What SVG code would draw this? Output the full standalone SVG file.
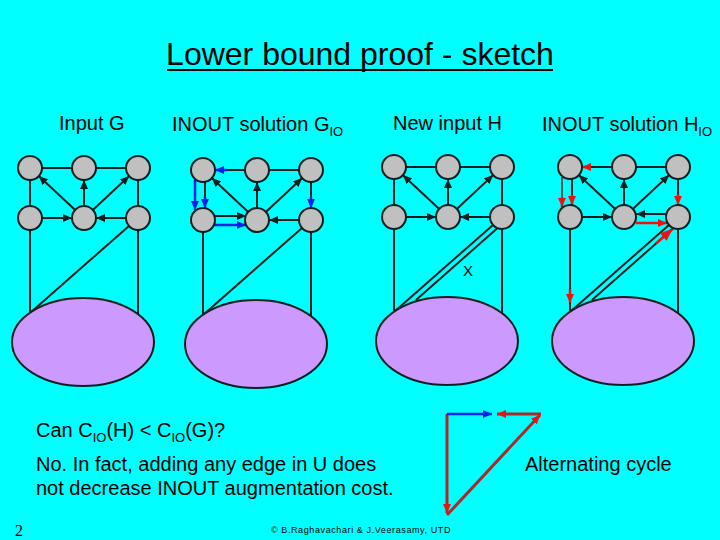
<svg xmlns="http://www.w3.org/2000/svg" width="720" height="540" viewBox="0 0 720 540">
<style>
.e{stroke:#102020;stroke-width:2;fill:none}
.n{fill:#c0c0c0;stroke:#102020;stroke-width:2}
.el{fill:#cc99ff;stroke:#102020;stroke-width:2}
.t{font-family:"Liberation Sans",Arial,sans-serif;fill:#000}
.b{stroke:#0022ee;stroke-width:2.5;fill:none}
.r{stroke:#ee1111;stroke-width:2.5;fill:none}
.g{stroke:#555;stroke-width:2;fill:none}
.br{stroke:#aa2a2a;stroke-width:3;fill:none}
</style>
<defs>
<marker id="ak" markerUnits="userSpaceOnUse" markerWidth="10" markerHeight="8" refX="9" refY="4" orient="auto"><path d="M0,0 L9,4 L0,8 z" fill="#102020"/></marker>
<marker id="ab" markerUnits="userSpaceOnUse" markerWidth="10" markerHeight="8" refX="9" refY="4" orient="auto"><path d="M0,0 L9,4 L0,8 z" fill="#0022ee"/></marker>
<marker id="ar" markerUnits="userSpaceOnUse" markerWidth="10" markerHeight="8" refX="9" refY="4" orient="auto"><path d="M0,0 L9,4 L0,8 z" fill="#ee1111"/></marker>
<marker id="ar2" markerUnits="userSpaceOnUse" markerWidth="14" markerHeight="10" refX="13" refY="5" orient="auto"><path d="M0,0 L13,5 L0,10 z" fill="#ee1111"/></marker>
</defs>
<rect width="720" height="540" fill="#00ffff"/>

<g id="title">
<text class="t" x="360" y="65" font-size="32" text-anchor="middle">Lower bound proof - sketch</text>
<line x1="167" y1="70" x2="553" y2="70" stroke="#000" stroke-width="2"/>
</g>
<g id="labels" font-size="20">
<text class="t" x="59" y="130">Input G</text>
<text class="t" x="172" y="131">INOUT solution G<tspan font-size="13" dy="5">IO</tspan></text>
<text class="t" x="393" y="130">New input H</text>
<text class="t" x="542" y="131">INOUT solution H<tspan font-size="13" dy="5">IO</tspan></text>
</g>

<!-- Graph 1 -->
<g id="graph1">
<g id="g1-connectors">
<line class="e" x1="42" y1="168" x2="72" y2="168"/>
<line class="e" x1="96" y1="168" x2="126" y2="168"/>
<line class="e" x1="30" y1="180" x2="30" y2="206"/>
<line class="e" x1="138" y1="180" x2="138" y2="206"/>
<line class="e" x1="75.2" y1="209.9" x2="38.8" y2="176.1" marker-end="url(#ak)"/>
<line class="e" x1="84" y1="206" x2="84" y2="180" marker-end="url(#ak)"/>
<line class="e" x1="92.8" y1="209.9" x2="129.2" y2="176.1" marker-end="url(#ak)"/>
<line class="e" x1="42" y1="218" x2="72" y2="218" marker-end="url(#ak)"/>
<line class="e" x1="126" y1="218" x2="96" y2="218" marker-end="url(#ak)"/>
<line class="e" x1="30" y1="230" x2="30" y2="313"/>
<line class="e" x1="138" y1="230" x2="138" y2="314"/>
<line class="e" x1="129" y1="225.9" x2="30" y2="313"/>
</g>
<g id="g1-u"><ellipse class="el" cx="83" cy="342" rx="71" ry="44"/></g>
<g id="g1-tl"><circle class="n" cx="30" cy="168" r="12"/></g>
<g id="g1-tm"><circle class="n" cx="84" cy="168" r="12"/></g>
<g id="g1-tr"><circle class="n" cx="138" cy="168" r="12"/></g>
<g id="g1-bl"><circle class="n" cx="30" cy="218" r="12"/></g>
<g id="g1-bm"><circle class="n" cx="84" cy="218" r="12"/></g>
<g id="g1-br"><circle class="n" cx="138" cy="218" r="12"/></g>
</g>

<!-- Graph 2 -->
<g id="graph2" transform="translate(173,2)">
<g id="g2-connectors">
<line class="e" x1="72" y1="168" x2="42" y2="168"/>
<line class="b" x1="54" y1="168" x2="42" y2="168" marker-end="url(#ab)"/>
<line class="e" x1="96" y1="168" x2="126" y2="168"/>
<line class="e" x1="32" y1="180" x2="32" y2="206"/>
<line class="b" x1="32" y1="195" x2="32" y2="206" marker-end="url(#ab)"/>
<line class="b" x1="22" y1="178" x2="22" y2="208" marker-end="url(#ab)"/>
<line class="e" x1="138" y1="180" x2="138" y2="206"/>
<line class="b" x1="138" y1="195" x2="138" y2="206" marker-end="url(#ab)"/>
<line class="e" x1="75.2" y1="209.9" x2="38.8" y2="176.1" marker-end="url(#ak)"/>
<line class="e" x1="84" y1="206" x2="84" y2="180" marker-end="url(#ak)"/>
<line class="e" x1="92.8" y1="209.9" x2="129.2" y2="176.1" marker-end="url(#ak)"/>
<line class="e" x1="42" y1="214" x2="73" y2="214" marker-end="url(#ak)"/>
<line class="b" x1="41" y1="223" x2="73" y2="223" marker-end="url(#ab)"/>
<line class="e" x1="126" y1="218" x2="96" y2="218" marker-end="url(#ak)"/>
<line class="e" x1="30" y1="230" x2="30" y2="313"/>
<line class="e" x1="138" y1="230" x2="138" y2="314"/>
<line class="e" x1="129" y1="225.9" x2="30" y2="313"/>
</g>
<g id="g2-u"><ellipse class="el" cx="83" cy="342" rx="71" ry="44"/></g>
<g id="g2-tl"><circle class="n" cx="30" cy="168" r="12"/></g>
<g id="g2-tm"><circle class="n" cx="84" cy="168" r="12"/></g>
<g id="g2-tr"><circle class="n" cx="138" cy="168" r="12"/></g>
<g id="g2-bl"><circle class="n" cx="30" cy="218" r="12"/></g>
<g id="g2-bm"><circle class="n" cx="84" cy="218" r="12"/></g>
<g id="g2-br"><circle class="n" cx="138" cy="218" r="12"/></g>
</g>

<!-- Graph 3 -->
<g id="graph3" transform="translate(364,-1)">
<g id="g3-connectors">
<line class="e" x1="42" y1="168" x2="72" y2="168"/>
<line class="e" x1="96" y1="168" x2="126" y2="168"/>
<line class="e" x1="30" y1="180" x2="30" y2="206"/>
<line class="e" x1="138" y1="180" x2="138" y2="206"/>
<line class="e" x1="75.2" y1="209.9" x2="38.8" y2="176.1" marker-end="url(#ak)"/>
<line class="e" x1="84" y1="206" x2="84" y2="180" marker-end="url(#ak)"/>
<line class="e" x1="92.8" y1="209.9" x2="129.2" y2="176.1" marker-end="url(#ak)"/>
<line class="e" x1="42" y1="218" x2="72" y2="218" marker-end="url(#ak)"/>
<line class="e" x1="126" y1="218" x2="96" y2="218" marker-end="url(#ak)"/>
<line class="e" x1="30" y1="230" x2="30" y2="313"/>
<line class="e" x1="138" y1="230" x2="138" y2="314"/>
<line class="e" x1="129" y1="225.9" x2="30" y2="313"/>
<line class="e" x1="133" y1="229.5" x2="52" y2="301" stroke-width="3"/>
</g>
<g id="g3-u"><ellipse class="el" cx="83" cy="342" rx="71" ry="44"/></g>
<g id="g3-tl"><circle class="n" cx="30" cy="168" r="12"/></g>
<g id="g3-tm"><circle class="n" cx="84" cy="168" r="12"/></g>
<g id="g3-tr"><circle class="n" cx="138" cy="168" r="12"/></g>
<g id="g3-bl"><circle class="n" cx="30" cy="218" r="12"/></g>
<g id="g3-bm"><circle class="n" cx="84" cy="218" r="12"/></g>
<g id="g3-br"><circle class="n" cx="138" cy="218" r="12"/></g>
<text class="t" x="104" y="277" font-size="15" text-anchor="middle">X</text>
</g>

<!-- Graph 4 -->
<g id="graph4" transform="translate(540,-1)">
<g id="g4-connectors">
<line class="e" x1="72" y1="168" x2="42" y2="168"/>
<line class="r" x1="50" y1="168" x2="42" y2="168" marker-end="url(#ar)"/>
<line class="e" x1="96" y1="168" x2="126" y2="168"/>
<line class="g" x1="22" y1="178" x2="22" y2="208"/>
<line class="r" x1="22" y1="198" x2="22" y2="208" marker-end="url(#ar)"/>
<line class="e" x1="32" y1="180" x2="32" y2="206"/>
<line class="r" x1="32" y1="196" x2="32" y2="206" marker-end="url(#ar)"/>
<line class="e" x1="138" y1="180" x2="138" y2="206"/>
<line class="r" x1="138" y1="195" x2="138" y2="206" marker-end="url(#ar)"/>
<line class="e" x1="75.2" y1="209.9" x2="38.8" y2="176.1" marker-end="url(#ak)"/>
<line class="e" x1="84" y1="206" x2="84" y2="180" marker-end="url(#ak)"/>
<line class="e" x1="92.8" y1="209.9" x2="129.2" y2="176.1" marker-end="url(#ak)"/>
<line class="e" x1="42" y1="218" x2="72" y2="218" marker-end="url(#ak)"/>
<line class="e" x1="126" y1="215" x2="96" y2="215" marker-end="url(#ak)"/>
<line class="r" x1="96" y1="224" x2="127" y2="224" marker-end="url(#ar)"/>
<line class="e" x1="30" y1="230" x2="30" y2="313"/>
<line class="r" x1="30" y1="290" x2="30" y2="304" stroke-width="3" marker-end="url(#ar)"/>
<line class="e" x1="138" y1="230" x2="138" y2="314"/>
<line class="e" x1="129" y1="225.9" x2="30" y2="313"/>
<line class="e" x1="52" y1="301" x2="133" y2="229.5" stroke-width="3"/>
<line class="r" x1="116" y1="244.5" x2="133" y2="229.5" stroke-width="3.5" marker-end="url(#ar2)"/>
</g>
<g id="g4-u"><ellipse class="el" cx="83" cy="342" rx="71" ry="44"/></g>
<g id="g4-tl"><circle class="n" cx="30" cy="168" r="12"/></g>
<g id="g4-tm"><circle class="n" cx="84" cy="168" r="12"/></g>
<g id="g4-tr"><circle class="n" cx="138" cy="168" r="12"/></g>
<g id="g4-bl"><circle class="n" cx="30" cy="218" r="12"/></g>
<g id="g4-bm"><circle class="n" cx="84" cy="218" r="12"/></g>
<g id="g4-br"><circle class="n" cx="138" cy="218" r="12"/></g>
</g>

<!-- Alternating cycle -->
<g id="cycle">
<line class="br" x1="447" y1="414" x2="447" y2="513" marker-end="url(#ar)"/>
<line class="br" x1="447" y1="515" x2="540" y2="415" marker-end="url(#ar)"/>
<line class="br" x1="541" y1="414" x2="497" y2="414" marker-end="url(#ar)"/>
<line class="b" x1="447" y1="414" x2="492" y2="414" stroke-width="3" marker-end="url(#ab)"/>
</g>

<g id="texts" font-size="20">
<text class="t" x="36" y="437">Can C<tspan font-size="13" dy="5">IO</tspan><tspan dy="-5">(H) &lt; C</tspan><tspan font-size="13" dy="5">IO</tspan><tspan dy="-5">(G)?</tspan></text>
<text class="t" x="36" y="471">No. In fact, adding any edge in U does</text>
<text class="t" x="36" y="495">not decrease INOUT augmentation cost.</text>
<text class="t" x="525" y="471">Alternating cycle</text>
<text x="15" y="536" font-family="Liberation Serif,serif" font-size="16" fill="#000">2</text>
<text class="t" x="361" y="533" font-size="9" text-anchor="middle" letter-spacing="0.6">© B.Raghavachari &amp; J.Veerasamy, UTD</text>
</g>
</svg>
